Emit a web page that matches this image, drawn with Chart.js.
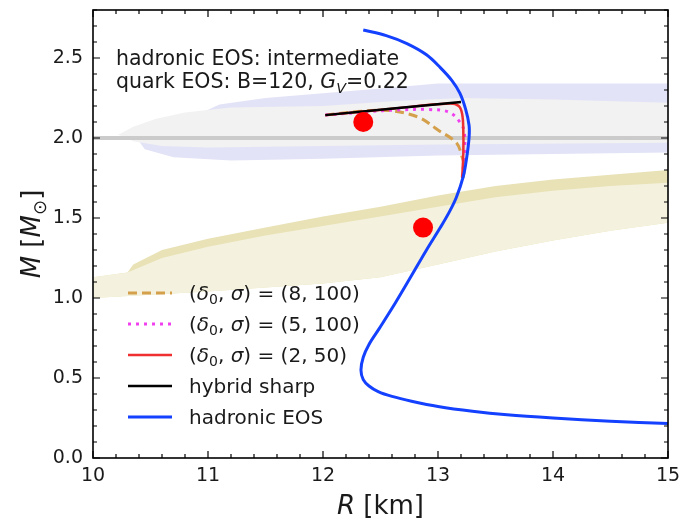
<!DOCTYPE html>
<html>
<head>
<meta charset="utf-8">
<script src="https://cdn.jsdelivr.net/npm/chart.js@4.4.1/dist/chart.umd.min.js"></script>
<style>
  html, body { margin: 0; padding: 0; background: #fff; }
  #wrap { width: 685px; height: 524px; }
</style>
</head>
<body>
<div id="wrap"><canvas id="mrChart" width="685" height="524"></canvas></div>
<script>
// hadronic EOS mass-radius curve (R in km, M in solar masses)
const hadR = [12.35, 12.55, 12.73, 12.9, 13.02, 13.12, 13.19, 13.24, 13.27, 13.27, 13.25, 13.22, 13.16, 13.1, 13.02, 12.9, 12.77, 12.63, 12.49, 12.4, 12.35, 12.33, 12.35, 12.4, 12.48, 12.6, 12.77, 13.0, 13.3, 13.6, 14.0, 14.5, 15.0];
const hadM = [2.675, 2.64, 2.59, 2.52, 2.44, 2.36, 2.28, 2.18, 2.08, 2.0, 1.88, 1.76, 1.63, 1.54, 1.44, 1.3, 1.14, 0.97, 0.81, 0.71, 0.63, 0.55, 0.49, 0.45, 0.415, 0.385, 0.355, 0.322, 0.292, 0.27, 0.25, 0.23, 0.215];

// hybrid stars, sharp transition
const sharpR = [12.02, 13.2];
const sharpM = [2.143, 2.225];

// crossover hybrids (delta0, sigma)
const x250R = [12.02, 12.6, 13.1, 13.18, 13.21, 13.22, 13.22, 13.21];
const x250M = [2.143, 2.183, 2.215, 2.2, 2.15, 2.05, 1.9, 1.75];
const x5100R = [12.02, 12.4, 12.63, 12.92, 13.1, 13.2, 13.23, 13.23, 13.21];
const x5100M = [2.143, 2.165, 2.175, 2.178, 2.16, 2.09, 2.03, 1.9, 1.75];
const x8100R = [12.02, 12.3, 12.57, 12.83, 13.0, 13.16, 13.21, 13.23, 13.21];
const x8100M = [2.143, 2.165, 2.172, 2.13, 2.05, 1.97, 1.88, 1.82, 1.72];

// NICER measurements
const dotR = [12.35, 12.87];
const dotM = [2.1, 1.44];

// 2 Msun reference
const refR = [10, 15];
const refM = [2.0, 2.0];

// J0740 contours
const outerR = [11.1, 11.5, 12.0, 12.5, 13.0, 14.0, 15.0, 15.0, 14.0, 13.0, 12.0, 11.2, 10.7, 10.45, 10.4];
const outerM = [2.21, 2.25, 2.28, 2.31, 2.34, 2.34, 2.34, 1.91, 1.90, 1.89, 1.87, 1.86, 1.88, 1.93, 1.98];
const innerR = [10.22, 10.35, 10.55, 10.8, 11.2, 12.0, 12.6, 13.2, 14.0, 15.0, 15.0, 13.0, 12.0, 11.0, 10.6, 10.35];
const innerM = [2.02, 2.07, 2.12, 2.16, 2.19, 2.2, 2.23, 2.25, 2.24, 2.22, 1.97, 1.96, 1.95, 1.94, 1.95, 1.98];

// J0030 contours
const gwOuterR = [10.3, 10.35, 10.6, 11.0, 11.5, 12.0, 12.5, 13.0, 13.5, 14.0, 14.5, 15.0, 15.0, 14.5, 14.0, 13.5, 13.0, 12.5, 12.0, 11.0, 10.0, 10.0];
const gwOuterM = [1.16, 1.21, 1.3, 1.37, 1.44, 1.51, 1.57, 1.64, 1.7, 1.74, 1.77, 1.8, 1.47, 1.42, 1.36, 1.29, 1.21, 1.13, 1.09, 1.04, 1.0, 1.13];
const gwInnerR = [10.0, 10.3, 10.6, 11.0, 11.5, 12.0, 12.5, 13.0, 13.5, 14.0, 14.5, 15.0, 15.0, 14.5, 14.0, 13.5, 13.0, 12.5, 12.0, 11.0, 10.0];
const gwInnerM = [1.13, 1.16, 1.25, 1.32, 1.39, 1.45, 1.51, 1.57, 1.63, 1.67, 1.7, 1.72, 1.47, 1.42, 1.36, 1.29, 1.21, 1.13, 1.09, 1.04, 1.0];

const xTicks = [10, 11, 12, 13, 14, 15];
const yTicks = [0.0, 0.5, 1.0, 1.5, 2.0, 2.5];

const FONT = '"DejaVu Sans", sans-serif';

function pts(rs, ms) {
  return rs.map((r, i) => ({ x: r, y: ms[i] }));
}

function curve(label, rs, ms, color, width, dash) {
  return {
    label: label,
    data: pts(rs, ms),
    showLine: true,
    borderColor: color,
    borderWidth: width,
    borderDash: dash || [],
    pointRadius: 0,
    tension: 0.35,
    fill: false
  };
}

function region(rs, ms, color) {
  return {
    data: pts(rs, ms),
    showLine: true,
    borderWidth: 0,
    borderColor: color,
    backgroundColor: color,
    pointRadius: 0,
    tension: 0,
    fill: 'shape'
  };
}

// writes a run of text pieces, some italic and some subscript, starting at x
function drawRuns(ctx, x, y, size, runs) {
  let cx = x;
  runs.forEach(p => {
    const s = p.sub ? size * 0.7 : size;
    ctx.font = (p.it ? 'italic ' : '') + s + 'px ' + FONT;
    ctx.fillText(p.t, cx, y + (p.sub ? size * 0.22 : 0));
    cx += ctx.measureText(p.t).width;
  });
  return cx - x;
}

function runsWidth(ctx, size, runs) {
  let w = 0;
  runs.forEach(p => {
    const s = p.sub ? size * 0.7 : size;
    ctx.font = (p.it ? 'italic ' : '') + s + 'px ' + FONT;
    w += ctx.measureText(p.t).width;
  });
  return w;
}

function pairLabel(a, b) {
  return [{ t: '(' }, { t: 'δ', it: true }, { t: '0', sub: true }, { t: ', ' }, { t: 'σ', it: true }, { t: ') = (' + a + ', ' + b + ')' }];
}

const legendItems = [
  { color: '#d4a04c', dash: [9, 5], width: 3, runs: pairLabel(8, 100) },
  { color: '#f040f0', dash: [3, 5], width: 3, runs: pairLabel(5, 100) },
  { color: '#ee3030', dash: [], width: 2.5, runs: pairLabel(2, 50) },
  { color: '#000000', dash: [], width: 2.5, runs: [{ t: 'hybrid sharp' }] },
  { color: '#1440ff', dash: [], width: 3, runs: [{ t: 'hadronic EOS' }] }
];

const decor = {
  id: 'decor',
  afterDraw(chart) {
    const ctx = chart.ctx;
    const a = chart.chartArea;
    const xs = chart.scales.x, ys = chart.scales.y;
    ctx.save();
    ctx.strokeStyle = '#000';
    ctx.lineWidth = 1.2;
    ctx.setLineDash([]);
    // inward ticks on all four sides
    for (let i = 0; i <= 25; i++) {
      const v = 10 + i * 0.2;
      const px = xs.getPixelForValue(v);
      const len = (i % 5 === 0) ? 7 : 4;
      ctx.beginPath();
      ctx.moveTo(px, a.bottom); ctx.lineTo(px, a.bottom - len);
      ctx.moveTo(px, a.top); ctx.lineTo(px, a.top + len);
      ctx.stroke();
    }
    for (let i = 0; i <= 28; i++) {
      const v = i * 0.1;
      const py = ys.getPixelForValue(v);
      const len = (i % 5 === 0) ? 7 : 4;
      ctx.beginPath();
      ctx.moveTo(a.left, py); ctx.lineTo(a.left + len, py);
      ctx.moveTo(a.right, py); ctx.lineTo(a.right - len, py);
      ctx.stroke();
    }
    ctx.lineWidth = 1.6;
    ctx.strokeRect(a.left, a.top, a.right - a.left, a.bottom - a.top);

    ctx.fillStyle = '#1a1a1a';
    ctx.textBaseline = 'alphabetic';
    ctx.textAlign = 'left';

    // model description
    drawRuns(ctx, 116, 65, 20.5, [{ t: 'hadronic EOS: intermediate' }]);
    drawRuns(ctx, 116, 88, 20.5, [{ t: 'quark EOS: B=120, ' }, { t: 'G', it: true }, { t: 'V', it: true, sub: true }, { t: '=0.22' }]);

    // legend
    legendItems.forEach((it, i) => {
      const y = 293 + i * 31;
      ctx.strokeStyle = it.color;
      ctx.lineWidth = it.width;
      ctx.setLineDash(it.dash);
      ctx.beginPath();
      ctx.moveTo(128, y); ctx.lineTo(172, y);
      ctx.stroke();
      ctx.setLineDash([]);
      drawRuns(ctx, 189, y + 7, 20, it.runs);
    });

    // axis titles
    const xr = [{ t: 'R', it: true }, { t: ' [km]' }];
    const wx = runsWidth(ctx, 26, xr);
    drawRuns(ctx, (a.left + a.right) / 2 - wx / 2, 514, 26, xr);

    const yr = [{ t: 'M', it: true }, { t: ' [' }, { t: 'M', it: true }, { t: '⊙', sub: true }, { t: ']' }];
    const wy = runsWidth(ctx, 26, yr);
    ctx.translate(40, (a.top + a.bottom) / 2);
    ctx.rotate(-Math.PI / 2);
    drawRuns(ctx, -wy / 2, 0, 26, yr);
    ctx.restore();
  }
};

new Chart(document.getElementById('mrChart'), {
  type: 'scatter',
  data: {
    datasets: [
      {
        data: pts(dotR, dotM),
        pointRadius: 10,
        pointHoverRadius: 10,
        pointBackgroundColor: '#ff0000',
        pointBorderWidth: 0,
        showLine: false
      },
      curve('hadronic EOS', hadR, hadM, '#1440ff', 3),
      curve('hybrid sharp', sharpR, sharpM, '#000000', 2.5),
      curve('(2,50)', x250R, x250M, '#ee3030', 2.5),
      curve('(5,100)', x5100R, x5100M, '#f040f0', 3, [3, 5]),
      curve('(8,100)', x8100R, x8100M, '#d4a04c', 3, [9, 5]),
      { data: pts(refR, refM), showLine: true, borderColor: '#cbcbcb', borderWidth: 4, pointRadius: 0, fill: false },
      region(innerR, innerM, '#f2f2f2'),
      region(outerR, outerM, '#e2e3f6'),
      region(gwInnerR, gwInnerM, '#f4f2de'),
      region(gwOuterR, gwOuterM, '#e9e2b7')
    ]
  },
  options: {
    responsive: false,
    animation: false,
    layout: { padding: { top: 10, right: 17, left: 0, bottom: 0 } },
    plugins: {
      legend: { display: false },
      tooltip: { enabled: false }
    },
    scales: {
      x: {
        type: 'linear',
        min: 10,
        max: 15,
        afterBuildTicks: s => { s.ticks = xTicks.map(v => ({ value: v })); },
        afterFit: s => { s.height = 66; s.paddingLeft = 0; s.paddingRight = 0; },
        ticks: {
          padding: 7,
          color: '#1a1a1a',
          font: { family: 'DejaVu Sans', size: 19 },
          callback: v => String(v)
        },
        grid: { display: false, drawTicks: false },
        border: { display: false }
      },
      y: {
        type: 'linear',
        min: 0,
        max: 2.8,
        afterBuildTicks: s => { s.ticks = yTicks.map(v => ({ value: v })); },
        afterFit: s => { s.width = 93; s.paddingTop = 0; s.paddingBottom = 0; },
        ticks: {
          padding: 10,
          color: '#1a1a1a',
          font: { family: 'DejaVu Sans', size: 19 },
          callback: v => Number(v).toFixed(1)
        },
        grid: { display: false, drawTicks: false },
        border: { display: false }
      }
    }
  },
  plugins: [decor]
});
</script>
</body>
</html>
